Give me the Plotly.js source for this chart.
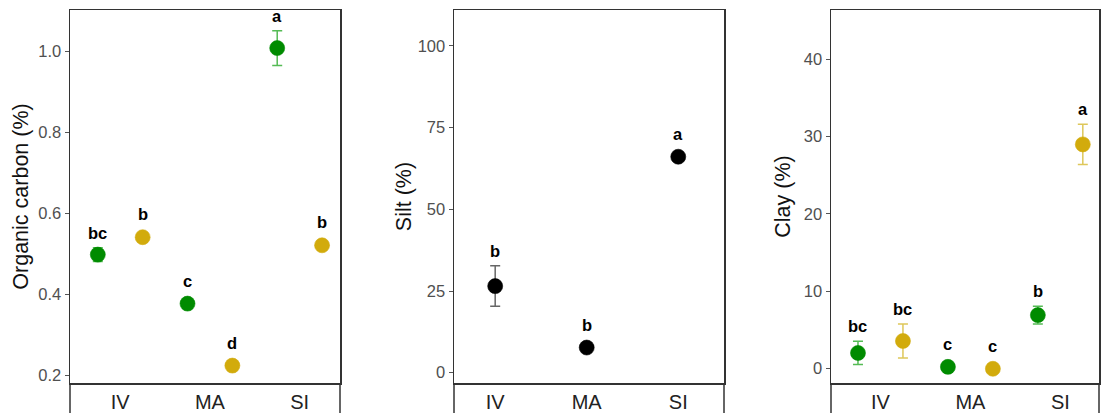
<!DOCTYPE html>
<html>
<head>
<meta charset="utf-8">
<script src="https://cdn.plot.ly/plotly-3.0.1.min.js"></script>
<style>html,body{margin:0;padding:0;background:#fff;}#chart{width:1101px;height:413px;}</style>
</head>
<body>
<div id="chart"></div>
<script>
// ---- data ----
const sites = ['IV', 'MA', 'SI'];

const ocGreen = [0.498, 0.377, 1.008];
const ocGreenErr = [0.017, 0, 0.043];
const ocGreenLetters = ['bc', 'c', 'a'];
const ocYellow = [0.541, 0.224, 0.521];
const ocYellowErr = [0, 0, 0];
const ocYellowLetters = ['b', 'd', 'b'];

const silt = [26.5, 7.7, 66.1];
const siltErr = [6.2, 0, 0];
const siltLetters = ['b', 'b', 'a'];

const clayGreen = [2.0, 0.2, 6.9];
const clayGreenErr = [1.5, 0, 1.15];
const clayGreenLetters = ['bc', 'c', 'b'];
const clayYellow = [3.55, -0.05, 29.0];
const clayYellowErr = [2.2, 0, 2.6];
const clayYellowLetters = ['bc', 'c', 'a'];

// ---- styles ----
const GREEN = '#008B00', GREEN_ERR = '#55BB55';
const GOLD = '#D2AB0C', GOLD_ERR = '#DEC75A';
const BLACK = '#000000', BLACK_ERR = '#666666';
const FONT = 'Arial, "Liberation Sans", sans-serif';
const DODGE = 0.25;

const pos = (off) => sites.map((s, i) => i + 1 + off);

function series(xa, ya, y, err, off, color, errColor) {
  return {
    type: 'scatter', mode: 'markers', xaxis: xa, yaxis: ya,
    x: pos(off), y: y,
    error_y: {type: 'data', array: err, visible: true, color: errColor, thickness: 1.5, width: 5},
    marker: {size: 15, color: color, line: {width: 0.6, color: color}},
    showlegend: false, hoverinfo: 'y'
  };
}

const traces = [
  series('x', 'y', ocGreen, ocGreenErr, -DODGE, GREEN, GREEN_ERR),
  series('x', 'y', ocYellow, ocYellowErr, DODGE, GOLD, GOLD_ERR),
  series('x2', 'y2', silt, siltErr, 0, BLACK, BLACK_ERR),
  series('x3', 'y3', clayGreen, clayGreenErr, -DODGE, GREEN, GREEN_ERR),
  series('x3', 'y3', clayYellow, clayYellowErr, DODGE, GOLD, GOLD_ERR)
];

const annotations = [];
function letters(xa, ya, y, err, labels, off) {
  labels.forEach((t, i) => {
    annotations.push({
      xref: xa, yref: ya, x: i + 1 + off, y: y[i] + err[i],
      text: '<b>' + t + '</b>', showarrow: false,
      yanchor: 'middle', yshift: err[i] > 0 ? 15 : 23,
      font: {family: FONT, size: 16.5, color: '#000'}
    });
  });
}
letters('x', 'y', ocGreen, ocGreenErr, ocGreenLetters, -DODGE);
letters('x', 'y', ocYellow, ocYellowErr, ocYellowLetters, DODGE);
letters('x2', 'y2', silt, siltErr, siltLetters, 0);
letters('x3', 'y3', clayGreen, clayGreenErr, clayGreenLetters, -DODGE);
letters('x3', 'y3', clayYellow, clayYellowErr, clayYellowLetters, DODGE);

const W = 1101;
const doms = [[70 / W, 340 / W], [454 / W, 724 / W], [831 / W, 1099 / W]];

function xaxis(dom, range, anchor) {
  return {
    domain: dom, range: range, anchor: anchor,
    tickvals: [1, 2, 3], ticktext: sites, ticks: '',
    tickfont: {family: FONT, size: 20, color: '#222'},
    ticklabelstandoff: 0,
    showgrid: false, zeroline: false,
    showline: true, mirror: true, linecolor: '#333', linewidth: 1.5,
    fixedrange: true
  };
}
function yaxis(range, tickvals, fmt, title, anchor, standoff) {
  return {
    range: range, anchor: anchor, tickvals: tickvals, tickformat: fmt,
    ticks: 'outside', ticklen: 4, tickwidth: 1, tickcolor: '#555',
    tickfont: {family: FONT, size: 16.5, color: '#505050'},
    title: {text: title, font: {family: FONT, size: 21.5, color: '#111'}, standoff: standoff},
    showgrid: false, zeroline: false,
    showline: true, mirror: true, linecolor: '#333', linewidth: 1.5,
    fixedrange: true
  };
}

const shapes = [];
['x', 'x2', 'x3'].forEach(xa => {
  [0, 1].forEach(xx => shapes.push({
    type: 'line', xref: xa + ' domain', yref: 'paper',
    x0: xx, x1: xx, y0: 0, y1: -0.2,
    line: {color: '#333', width: 1.5}
  }));
});

const layout = {
  width: 1101, height: 413,
  margin: {l: 0, r: 0, t: 10, b: 30},
  paper_bgcolor: '#fff', plot_bgcolor: '#fff',
  showlegend: false,
  xaxis: xaxis(doms[0], [0.44, 3.45], 'y'),
  xaxis2: xaxis(doms[1], [0.55, 3.5], 'y2'),
  xaxis3: xaxis(doms[2], [0.45, 3.43], 'y3'),
  yaxis: yaxis([0.181, 1.102], [0.2, 0.4, 0.6, 0.8, 1.0], '.1f', 'Organic carbon (%)', 'x', 3),
  yaxis2: yaxis([-3.15, 111], [0, 25, 50, 75, 100], 'd', 'Silt (%)', 'x2', 0),
  yaxis3: yaxis([-1.89, 46.4], [0, 10, 20, 30, 40], 'd', 'Clay (%)', 'x3', 7),
  annotations: annotations,
  shapes: shapes
};

Plotly.newPlot('chart', traces, layout, {displayModeBar: false, staticPlot: true});
</script>
</body>
</html>
